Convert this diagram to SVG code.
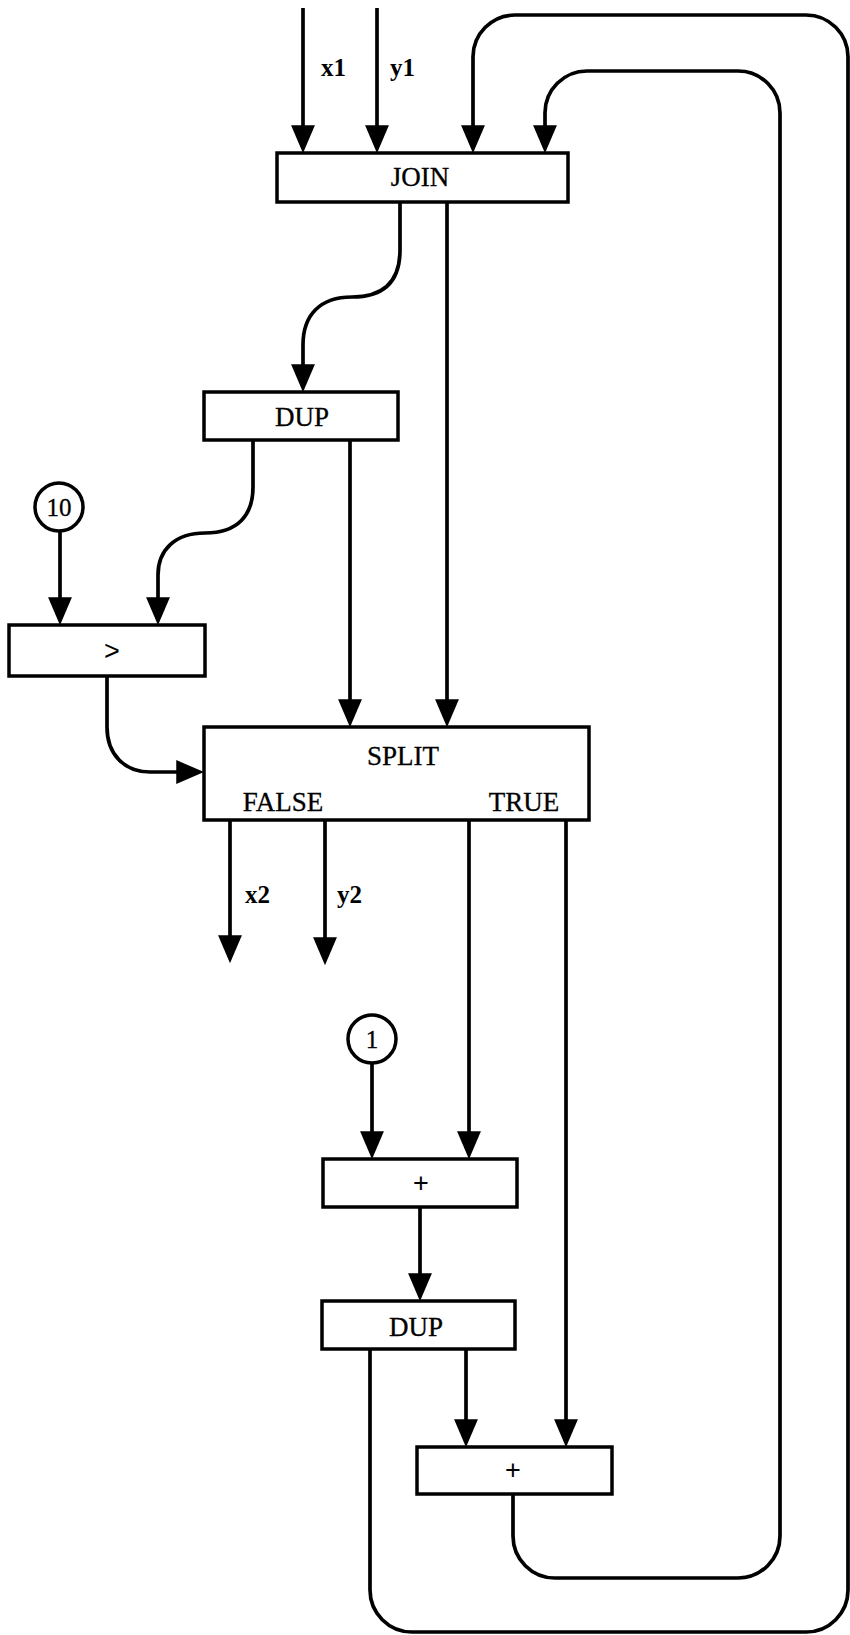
<svg xmlns="http://www.w3.org/2000/svg" width="850" height="1635" viewBox="0 0 850 1635">
<style>
.box{fill:#fff;stroke:#000;stroke-width:3.5}
.circ{fill:#fff;stroke:#000;stroke-width:3.5}
.ln{fill:none;stroke:#000;stroke-width:3.7}
.t{font-family:"Liberation Serif","Times New Roman",serif;font-size:27px;fill:#000;stroke:#000;stroke-width:0.3;text-anchor:middle}
.n{font-family:"Liberation Serif","Times New Roman",serif;font-size:25px;fill:#000;stroke:#000;stroke-width:0.3;text-anchor:middle}
.lb{font-family:"Liberation Serif","Times New Roman",serif;font-size:25px;font-weight:bold;fill:#000}
.op{font-family:"Liberation Sans",Arial,sans-serif;font-size:27px;fill:#000;text-anchor:middle}
</style>
<defs>
<marker id="ah" markerUnits="userSpaceOnUse" markerWidth="28" markerHeight="24" viewBox="0 0 27 23" refX="21" refY="11.5" orient="auto">
<path d="M0,0 L27,11.5 L0,23 z" fill="#000"/>
</marker>
</defs>
<g id="connectors">
<path class="ln" d="M303,8 V147" marker-end="url(#ah)"/>
<path class="ln" d="M377,8 V147" marker-end="url(#ah)"/>
<path class="ln" d="M370,1349 V1590 A42,42 0 0 0 412,1632 H806 A42,42 0 0 0 848,1590 V57 A42,42 0 0 0 806,15 H515 A42,42 0 0 0 473,57 V147" marker-end="url(#ah)"/>
<path class="ln" d="M513,1494 V1536 A42,42 0 0 0 555,1578 H738 A42,42 0 0 0 780,1536 V113 A42,42 0 0 0 738,71 H587 A42,42 0 0 0 545,113 V147" marker-end="url(#ah)"/>
<path class="ln" d="M400,202 V250 C400,280 385,297 352,297 C320,297 303,315 303,345 V386" marker-end="url(#ah)"/>
<path class="ln" d="M447,202 V721" marker-end="url(#ah)"/>
<path class="ln" d="M253,440 V487 C253,515 238,533 205,533 C175,533 158,550 158,575 V619" marker-end="url(#ah)"/>
<path class="ln" d="M350,440 V721" marker-end="url(#ah)"/>
<path class="ln" d="M60,532 V619" marker-end="url(#ah)"/>
<path class="ln" d="M107,676 V727 C107,755 125,772 150,772 H198" marker-end="url(#ah)"/>
<path class="ln" d="M230,820 V957" marker-end="url(#ah)"/>
<path class="ln" d="M325,820 V959" marker-end="url(#ah)"/>
<path class="ln" d="M469,820 V1153" marker-end="url(#ah)"/>
<path class="ln" d="M566,820 V1441" marker-end="url(#ah)"/>
<path class="ln" d="M372,1063 V1153" marker-end="url(#ah)"/>
<path class="ln" d="M420,1207 V1295" marker-end="url(#ah)"/>
<path class="ln" d="M466,1349 V1441" marker-end="url(#ah)"/>
<text class="lb" x="321" y="76">x1</text>
<text class="lb" x="390" y="76">y1</text>
<text class="lb" x="245" y="903">x2</text>
<text class="lb" x="337" y="903">y2</text>
</g>
<g id="join">
<rect class="box" x="277" y="153" width="291" height="49"/>
<text class="t" x="420" y="186">JOIN</text>
</g>
<g id="dup1">
<rect class="box" x="204" y="392" width="194" height="48"/>
<text class="t" x="302" y="426">DUP</text>
</g>
<g id="const10">
<circle class="circ" cx="59" cy="507" r="24"/>
<text class="n" x="59" y="516">10</text>
</g>
<g id="gt">
<rect class="box" x="9" y="625" width="196" height="51"/>
<text class="op" x="112" y="660">&gt;</text>
</g>
<g id="split">
<rect class="box" x="204" y="727" width="385" height="93"/>
<text class="t" x="403" y="765">SPLIT</text>
<text class="t" x="283" y="811">FALSE</text>
<text class="t" x="524" y="811">TRUE</text>
</g>
<g id="const1">
<circle class="circ" cx="372" cy="1039" r="24"/>
<text class="n" x="372" y="1048">1</text>
</g>
<g id="plus1">
<rect class="box" x="323" y="1159" width="194" height="48"/>
<text class="op" x="421" y="1192">+</text>
</g>
<g id="dup2">
<rect class="box" x="322" y="1301" width="193" height="48"/>
<text class="t" x="416" y="1336">DUP</text>
</g>
<g id="plus2">
<rect class="box" x="417" y="1447" width="195" height="47"/>
<text class="op" x="513" y="1479">+</text>
</g>
</svg>
